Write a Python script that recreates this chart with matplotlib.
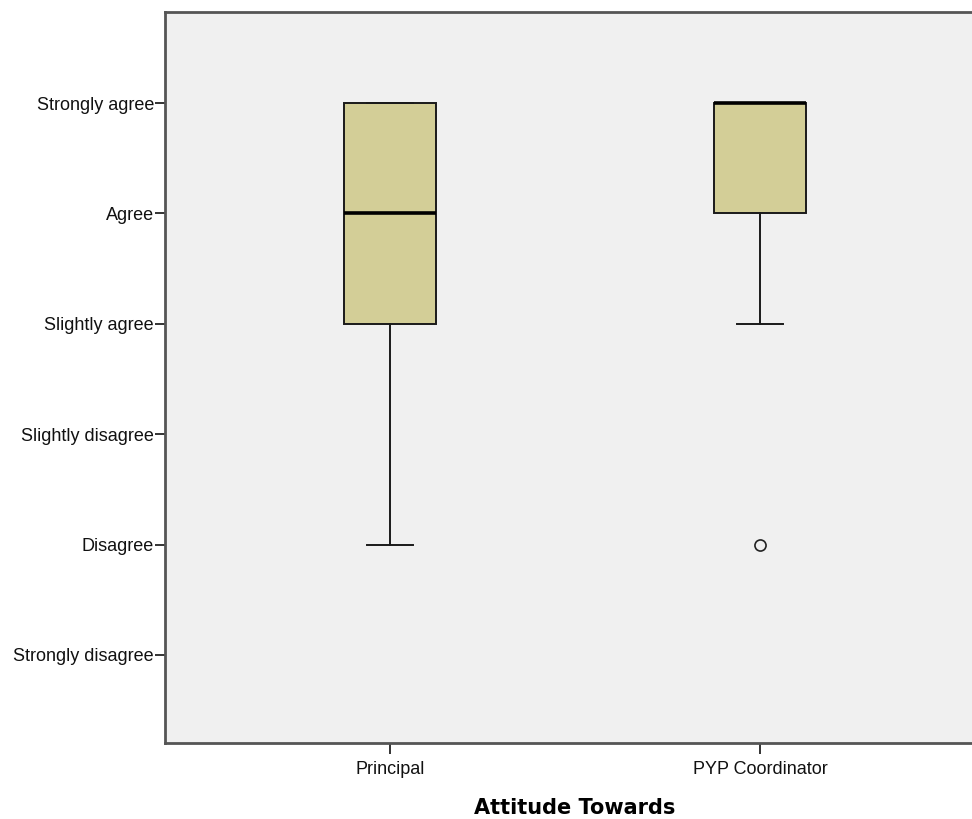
import matplotlib.pyplot as plt

# response scale
levels = ["Strongly disagree", "Disagree", "Slightly disagree",
          "Slightly agree", "Agree", "Strongly agree"]
level_vals = [1, 2, 3, 4, 5, 6]

groups = ["Principal", "PYP Coordinator"]
q1 = [4, 5]
med = [5, 6]
q3 = [6, 6]
whislo = [2, 4]
whishi = [6, 6]
fliers = [[], [2]]

stats = []
for i, g in enumerate(groups):
    stats.append({"label": g, "q1": q1[i], "med": med[i], "q3": q3[i],
                  "whislo": whislo[i], "whishi": whishi[i], "fliers": fliers[i]})

plt.rcParams['font.family'] = ['Liberation Sans', 'DejaVu Sans']

fig = plt.figure(figsize=(9.72, 8.19), dpi=100)
W, H = 972, 819
ax = fig.add_axes([165 / W, 1 - 743 / H, (985 - 165) / W, (743 - 12) / H])
ax.set_facecolor('#F0F0F0')

ax.bxp(stats, positions=[1, 2], widths=0.249, patch_artist=True,
       boxprops=dict(facecolor='#D3CE97', edgecolor='#1a1a1a', linewidth=1.4),
       medianprops=dict(color='black', linewidth=2.6),
       whiskerprops=dict(color='#1a1a1a', linewidth=1.4),
       capprops=dict(color='#1a1a1a', linewidth=1.4),
       capwidths=0.125,
       flierprops=dict(marker='o', markerfacecolor='none', markeredgecolor='#222222',
                       markersize=8, markeredgewidth=1.2))

ax.set_xlim(1 - 225 / 370, 2 + 225 / 370)
ax.set_ylim(1 - 88 / 110.3, 6 + 91 / 110.3)

ax.set_yticks(level_vals)
ax.set_yticklabels(levels, fontsize=13, color='#111111')
ax.set_xticks([1, 2])
ax.set_xticklabels(groups, fontsize=13, color='#111111')
ax.tick_params(axis='y', length=7, width=1.4, color='#333333', pad=1)
ax.tick_params(axis='x', length=8, width=1.4, color='#333333', pad=5)

for side in ['left', 'bottom', 'top']:
    ax.spines[side].set_color('#555555')
    ax.spines[side].set_linewidth(2)
ax.spines['right'].set_visible(False)

ax.set_xlabel("Attitude Towards", fontsize=15, fontweight='bold',
              family='DejaVu Sans', labelpad=14)

fig.savefig('out.png', dpi=100, facecolor='white')
